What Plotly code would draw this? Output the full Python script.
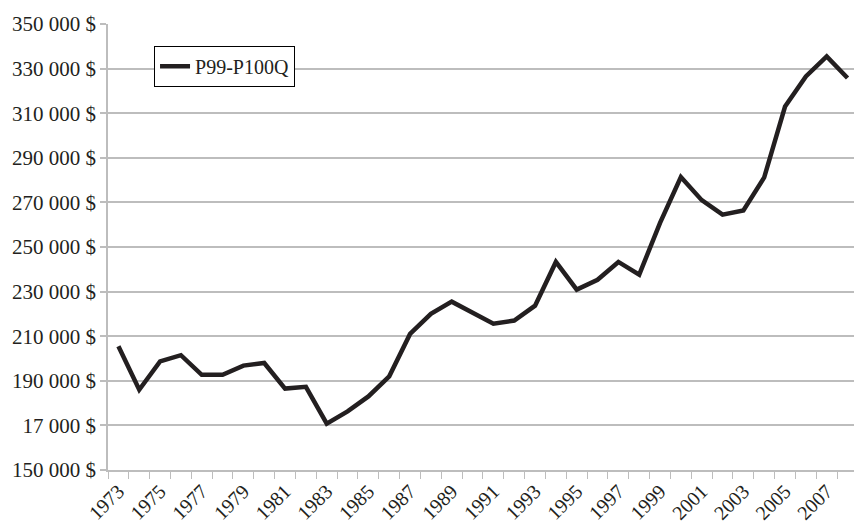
import plotly.graph_objects as go

years = list(range(1973, 2009))
income = [
    205500, 186000, 198700, 201500, 192700, 192700, 196800, 198000, 186500, 187300,
    170800, 176300, 183000, 192000, 211000, 220000, 225500, 220700, 215600, 217000,
    223700, 243300, 230900, 235300, 243300, 237600, 260800, 281400, 271000, 264500,
    266400, 281200, 313000, 326500, 335500, 325800,
]
y_ticks = [150000, 170000, 190000, 210000, 230000, 250000, 270000, 290000, 310000, 330000, 350000]
y_labels = ["150 000 $", "17 000 $", "190 000 $", "210 000 $", "230 000 $", "250 000 $",
            "270 000 $", "290 000 $", "310 000 $", "330 000 $", "350 000 $"]
x_labels = years[::2]

ink = "#231f20"
grid = "#bdbdbd"
serif = "'Liberation Serif', 'Times New Roman', serif"

fig = go.Figure()
fig.add_trace(
    go.Scatter(
        x=years,
        y=income,
        mode="lines",
        name="P99-P100Q",
        line=dict(color=ink, width=4.5),
    )
)

# tick marks sit between categories, labels on every other year
boundaries = [y - 0.5 for y in years] + [years[-1] + 0.5]

fig.update_xaxes(
    range=[years[0] - 0.5, years[0] - 0.5 + 35.81],
    tickmode="array",
    tickvals=x_labels,
    ticktext=[str(y) for y in x_labels],
    tickangle=-45,
    ticks="",
    ticklabelstandoff=0,
    showgrid=False,
    showline=True,
    linecolor=grid,
    linewidth=1.5,
    zeroline=False,
    automargin=False,
    minor=dict(
        tickmode="array",
        tickvals=boundaries,
        ticks="outside",
        ticklen=7,
        tickwidth=1.2,
        tickcolor=grid,
        showgrid=False,
    ),
    tickfont=dict(family=serif, size=20, color=ink),
)
fig.update_yaxes(
    range=[150000, 350000],
    tickmode="array",
    tickvals=y_ticks,
    ticktext=y_labels,
    ticks="outside",
    ticklen=6,
    tickwidth=1.5,
    tickcolor=grid,
    showgrid=True,
    gridcolor=grid,
    gridwidth=1.5,
    showline=True,
    linecolor=grid,
    linewidth=1.5,
    zeroline=False,
    automargin=False,
    tickfont=dict(family=serif, size=21, color=ink),
)

fig.update_layout(
    width=854,
    height=523,
    margin=dict(l=108, r=0, t=24, b=53),
    plot_bgcolor="white",
    paper_bgcolor="white",
    showlegend=True,
    legend=dict(
        x=0.0617,
        y=0.951,
        xanchor="left",
        yanchor="top",
        bordercolor="black",
        borderwidth=1,
        bgcolor="white",
        font=dict(family=serif, size=20, color=ink),
        itemwidth=30,
    ),
)

# drop the browser's default page margin so the figure starts at the corner
fig.write_html(
    "out.html",
    config={"displayModeBar": False},
    post_script="document.body.style.margin='0';",
)
